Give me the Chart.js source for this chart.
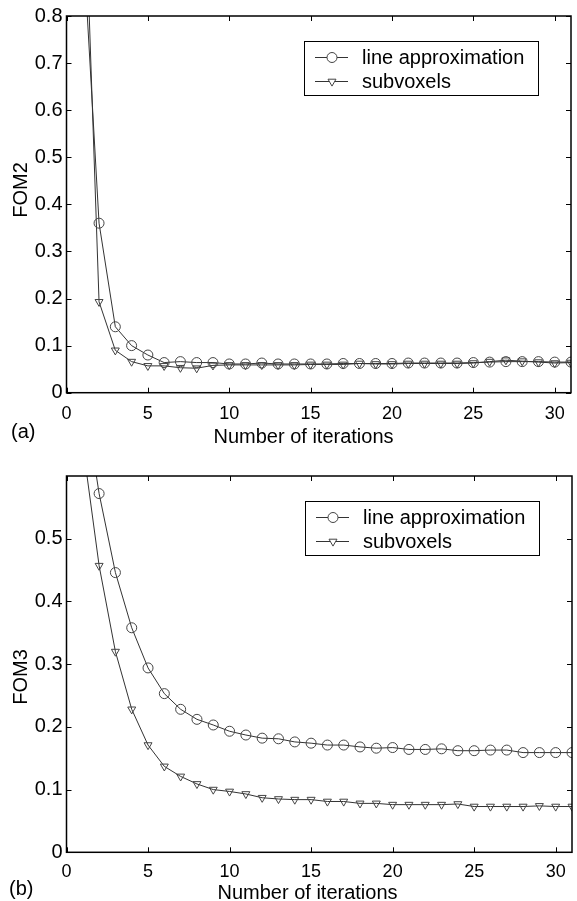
<!DOCTYPE html>
<html>
<head>
<meta charset="utf-8">
<script src="https://cdn.jsdelivr.net/npm/chart.js@4.4.0/dist/chart.umd.min.js"></script>
<style>
  html, body { margin: 0; padding: 0; background: #fff; overflow: hidden; }
  #wrap { position: relative; width: 577px; height: 901px; overflow: hidden; }
  canvas { position: absolute; left: 0; }
  #chartA { top: 0; }
  #chartB { top: 440px; }
</style>
</head>
<body>
<div id="wrap">
  <canvas id="chartA" width="577" height="452"></canvas>
  <canvas id="chartB" width="578" height="461"></canvas>
</div>
<script>
// ---- data ----
const iterations = [1, 2, 3, 4, 5, 6, 7, 8, 9, 10, 11, 12, 13, 14, 15, 16, 17, 18, 19, 20,
  21, 22, 23, 24, 25, 26, 27, 28, 29, 30, 31];
const seriesNames = ['line approximation', 'subvoxels'];

const fom2Line = [0.97, 0.36, 0.14, 0.10, 0.08, 0.064, 0.066, 0.064, 0.064, 0.061, 0.061,
  0.063, 0.061, 0.061, 0.061, 0.061, 0.062, 0.062, 0.062, 0.062, 0.063, 0.063, 0.063,
  0.063, 0.064, 0.065, 0.066, 0.066, 0.066, 0.065, 0.065];
const fom2Sub = [1.2, 0.193, 0.09, 0.066, 0.057, 0.057, 0.053, 0.052, 0.058, 0.059, 0.059,
  0.059, 0.059, 0.059, 0.06, 0.06, 0.06, 0.062, 0.061, 0.061, 0.062, 0.062, 0.062,
  0.062, 0.063, 0.066, 0.069, 0.067, 0.065, 0.063, 0.064];

const fom3Line = [0.74, 0.572, 0.446, 0.358, 0.294, 0.253, 0.228, 0.212, 0.203, 0.193,
  0.187, 0.182, 0.181, 0.176, 0.174, 0.171, 0.171, 0.168, 0.166, 0.167, 0.164, 0.164,
  0.165, 0.162, 0.162, 0.163, 0.163, 0.159, 0.159, 0.159, 0.159];
const fom3Sub = [0.65, 0.457, 0.32, 0.228, 0.171, 0.137, 0.121, 0.109, 0.1, 0.097, 0.093,
  0.087, 0.085, 0.084, 0.084, 0.081, 0.081, 0.078, 0.078, 0.076, 0.076, 0.076, 0.076,
  0.077, 0.073, 0.073, 0.073, 0.073, 0.074, 0.073, 0.073];

const xTicks = [0, 5, 10, 15, 20, 25, 30];
const fom2Ticks = [0, 0.1, 0.2, 0.3, 0.4, 0.5, 0.6, 0.7, 0.8];
const fom3Ticks = [0, 0.1, 0.2, 0.3, 0.4, 0.5];

Chart.defaults.font.family = "'Liberation Sans', Arial, sans-serif";
Chart.defaults.color = '#000';

const toPoints = vals => vals.map((v, i) => ({ x: iterations[i], y: v }));

function makeDatasets(lineVals, subVals) {
  return [
    {
      label: seriesNames[0],
      data: toPoints(lineVals),
      borderColor: '#333',
      borderWidth: 1,
      pointStyle: 'circle',
      pointRadius: 5,
      pointRotation: 0,
      pointBorderColor: '#444',
      pointBackgroundColor: 'rgba(0,0,0,0)',
      pointBorderWidth: 1,
      tension: 0,
    },
    {
      label: seriesNames[1],
      data: toPoints(subVals),
      borderColor: '#333',
      borderWidth: 1,
      pointStyle: 'triangle',
      pointRadius: 4.6,
      pointRotation: 180,
      pointBorderColor: '#444',
      pointBackgroundColor: 'rgba(0,0,0,0)',
      pointBorderWidth: 1,
      tension: 0,
    },
  ];
}

// box, inward ticks, legend and labels in the old matlab look
const framePlugin = {
  id: 'frame',
  afterDatasetsDraw(chart, args, opts) {
    const { ctx, chartArea: a, scales: { x, y } } = chart;
    ctx.save();
    ctx.strokeStyle = '#000';
    ctx.lineWidth = 1.5;
    ctx.strokeRect(a.left, a.top, a.right - a.left, a.bottom - a.top);

    ctx.lineWidth = 1;
    ctx.beginPath();
    x.ticks.forEach(t => {
      const px = Math.round(x.getPixelForValue(t.value)) + 0.5;
      ctx.moveTo(px, a.bottom); ctx.lineTo(px, a.bottom - 5);
      ctx.moveTo(px, a.top); ctx.lineTo(px, a.top + 5);
    });
    y.ticks.forEach(t => {
      const py = Math.round(y.getPixelForValue(t.value)) + 0.5;
      ctx.moveTo(a.left, py); ctx.lineTo(a.left + 5, py);
      ctx.moveTo(a.right, py); ctx.lineTo(a.right - 5, py);
    });
    ctx.stroke();

    // legend box
    const lw = 234, lh = 54;
    const lx = a.right - 33 - lw, ly = a.top + 24.5;
    ctx.fillStyle = '#fff';
    ctx.fillRect(lx, ly, lw, lh);
    ctx.strokeStyle = '#000';
    ctx.lineWidth = 1;
    ctx.strokeRect(Math.round(lx) + 0.5, Math.round(ly) + 0.5, lw, lh);
    chart.data.datasets.forEach((ds, i) => {
      const ry = ly + 17 + i * 24;
      ctx.strokeStyle = ds.borderColor;
      ctx.beginPath();
      ctx.moveTo(lx + 11, ry); ctx.lineTo(lx + 44, ry);
      ctx.stroke();
      ctx.strokeStyle = ds.pointBorderColor;
      ctx.fillStyle = '#fff';
      Chart.helpers.drawPoint(ctx, {
        pointStyle: ds.pointStyle, radius: ds.pointRadius,
        rotation: ds.pointRotation, borderWidth: 1,
      }, lx + 28, ry);
      ctx.fillStyle = '#000';
      ctx.font = "20px 'Liberation Sans', Arial, sans-serif";
      ctx.textBaseline = 'middle';
      ctx.textAlign = 'left';
      ctx.fillText(ds.label, lx + 58, ry + 1);
    });

    // axis titles and panel tag
    ctx.fillStyle = '#000';
    ctx.font = "20px 'Liberation Sans', Arial, sans-serif";
    ctx.textBaseline = 'alphabetic';
    ctx.textAlign = 'center';
    ctx.fillText(opts.xTitle, opts.xTitleX, opts.xTitleBase);
    ctx.textAlign = 'left';
    ctx.fillText(opts.tag, opts.tagX, opts.tagBase);
    ctx.save();
    ctx.translate(opts.yTitleBase, opts.yTitleY);
    ctx.rotate(-Math.PI / 2);
    ctx.textAlign = 'center';
    ctx.fillText(opts.yTitle, 0, 0);
    ctx.restore();
    ctx.restore();
  },
};

function makeChart(id, lineVals, subVals, yMax, yTicks, pad, xAxisHeight, xPad, frame) {
  return new Chart(document.getElementById(id), {
    type: 'line',
    data: { datasets: makeDatasets(lineVals, subVals) },
    options: {
      responsive: false,
      animation: false,
      devicePixelRatio: 1,
      layout: { padding: pad },
      plugins: { legend: { display: false }, tooltip: { enabled: false }, frame: frame },
      scales: {
        x: {
          type: 'linear',
          min: 0,
          max: 31,
          grid: { display: false, drawTicks: false },
          border: { display: false },
          ticks: { padding: xPad, font: { size: 18 }, color: '#000' },
          afterBuildTicks: s => { s.ticks = xTicks.map(v => ({ value: v })); },
          afterFit: s => { s.height = xAxisHeight; s.paddingLeft = 0; s.paddingRight = 0; },
        },
        y: {
          min: 0,
          max: yMax,
          grid: { display: false, drawTicks: false },
          border: { display: false },
          ticks: { padding: 4, font: { size: 20 }, color: '#000', callback: v => String(v) },
          afterBuildTicks: s => { s.ticks = yTicks.map(v => ({ value: v })); },
          afterFit: s => { s.width = 66.5; s.paddingTop = 0; s.paddingBottom = 0; },
        },
      },
    },
    plugins: [framePlugin],
  });
}

makeChart('chartA', fom2Line, fom2Sub, 0.8, fom2Ticks,
  { top: 16, right: 4, left: 0, bottom: 0 }, 59.3, 11, {
    xTitle: 'Number of iterations', xTitleX: 303.5, xTitleBase: 443,
    yTitle: 'FOM2', yTitleBase: 27, yTitleY: 190,
    tag: '(a)', tagX: 11, tagBase: 438,
  });

makeChart('chartB', fom3Line, fom3Sub, 0.6, fom3Ticks,
  { top: 36, right: 0, left: 0, bottom: 0 }, 48.7, 9, {
    xTitle: 'Number of iterations', xTitleX: 307.5, xTitleBase: 459,
    yTitle: 'FOM3', yTitleBase: 27, yTitleY: 237,
    tag: '(b)', tagX: 9, tagBase: 455,
  });
</script>
</body>
</html>
